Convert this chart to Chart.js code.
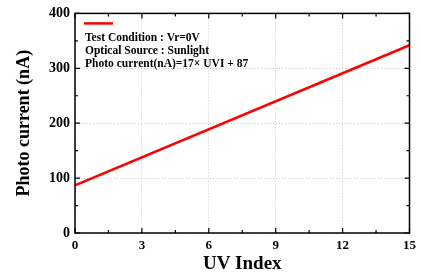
<!DOCTYPE html>
<html>
<head>
<meta charset="utf-8">
<script src="https://cdn.jsdelivr.net/npm/chart.js@4/dist/chart.umd.min.js"></script>
<style>
  html, body { margin: 0; padding: 0; background: #fff; }
  #wrap { width: 421px; height: 275px; }
</style>
</head>
<body>
<div id="wrap"><canvas id="myChart" width="421" height="275"></canvas></div>
<script>
// values
const uvIndex = [0, 15];
const photoCurrent = [87, 342];
const xTicks = [0, 3, 6, 9, 12, 15];
const yTicks = [0, 100, 200, 300, 400];
const legendLines = [
    'Test Condition : Vr=0V',
    'Optical Source : Sunlight',
    'Photo current(nA)=17\u00d7 UVI + 87'
];

const serif = '"Liberation Serif", "Times New Roman", serif';

// frame, inward ticks (major + minor) and the in-plot legend
const framePlugin = {
    id: 'frame',
    afterDraw(chart) {
        const ctx = chart.ctx;
        const a = chart.chartArea;
        const xs = chart.scales.x;
        const ys = chart.scales.y;
        ctx.save();
        ctx.strokeStyle = '#000';
        ctx.lineWidth = 1.5;
        ctx.strokeRect(a.left, a.top, a.right - a.left, a.bottom - a.top);

        ctx.lineWidth = 1.2;
        ctx.beginPath();
        for (let v = 0; v <= 15; v += 1.5) {
            const px = xs.getPixelForValue(v);
            const len = (v % 3 === 0) ? 5 : 3;
            ctx.moveTo(px, a.bottom); ctx.lineTo(px, a.bottom - len);
            ctx.moveTo(px, a.top); ctx.lineTo(px, a.top + len);
        }
        for (let v = 0; v <= 400; v += 50) {
            const py = ys.getPixelForValue(v);
            const len = (v % 100 === 0) ? 5 : 3;
            ctx.moveTo(a.left, py); ctx.lineTo(a.left + len, py);
            ctx.moveTo(a.right, py); ctx.lineTo(a.right - len, py);
        }
        ctx.stroke();

        // legend
        ctx.strokeStyle = '#ff0000';
        ctx.lineWidth = 2.5;
        ctx.beginPath();
        ctx.moveTo(a.left + 9, a.top + 10);
        ctx.lineTo(a.left + 38, a.top + 10);
        ctx.stroke();

        ctx.fillStyle = '#000';
        ctx.font = 'bold 11.5px ' + serif;
        ctx.textBaseline = 'middle';
        ctx.textAlign = 'left';
        legendLines.forEach((t, i) => {
            ctx.fillText(t, a.left + 10, a.top + 24.5 + i * 13);
        });
        ctx.restore();
    }
};

const myChartRef = document.getElementById('myChart').getContext('2d');

new Chart(myChartRef, {
    type: 'line',
    data: {
        datasets: [
            {
                label: 'Photo current',
                data: uvIndex.map((x, i) => ({ x: x, y: photoCurrent[i] })),
                borderColor: '#ff0000',
                borderWidth: 2.5,
                pointRadius: 0,
                fill: false,
                tension: 0
            }
        ]
    },
    options: {
        responsive: false,
        animation: false,
        devicePixelRatio: 1,
        layout: { padding: { top: 12, right: 10, left: 0, bottom: 0 } },
        plugins: {
            legend: { display: false },
            tooltip: { enabled: false }
        },
        scales: {
            x: {
                type: 'linear',
                min: 0,
                max: 15,
                afterBuildTicks: (s) => { s.ticks = xTicks.map(v => ({ value: v })); },
                afterFit: (s) => { s.height = 42; },
                ticks: {
                    color: '#000',
                    padding: 5,
                    maxRotation: 0,
                    font: { family: serif, size: 13, weight: 'bold' }
                },
                grid: { color: '#c8c8c8', lineWidth: 1, drawTicks: false },
                border: { display: false, dash: [1, 2] },
                title: {
                    display: true,
                    text: 'UV Index',
                    color: '#000',
                    padding: { top: 0, bottom: 0 },
                    font: { family: serif, size: 19, weight: 'bold' }
                }
            },
            y: {
                min: 0,
                max: 400,
                afterBuildTicks: (s) => { s.ticks = yTicks.map(v => ({ value: v })); },
                afterFit: (s) => { s.width = 75; },
                ticks: {
                    color: '#000',
                    padding: 5,
                    font: { family: serif, size: 14, weight: 'bold' }
                },
                grid: { color: '#c8c8c8', lineWidth: 1, drawTicks: false },
                border: { display: false, dash: [1, 2] },
                title: {
                    display: true,
                    text: 'Photo current (nA)',
                    color: '#000',
                    padding: { top: 14, bottom: 0 },
                    font: { family: serif, size: 18, weight: 'bold' }
                }
            }
        }
    },
    plugins: [framePlugin]
});
</script>
</body>
</html>
